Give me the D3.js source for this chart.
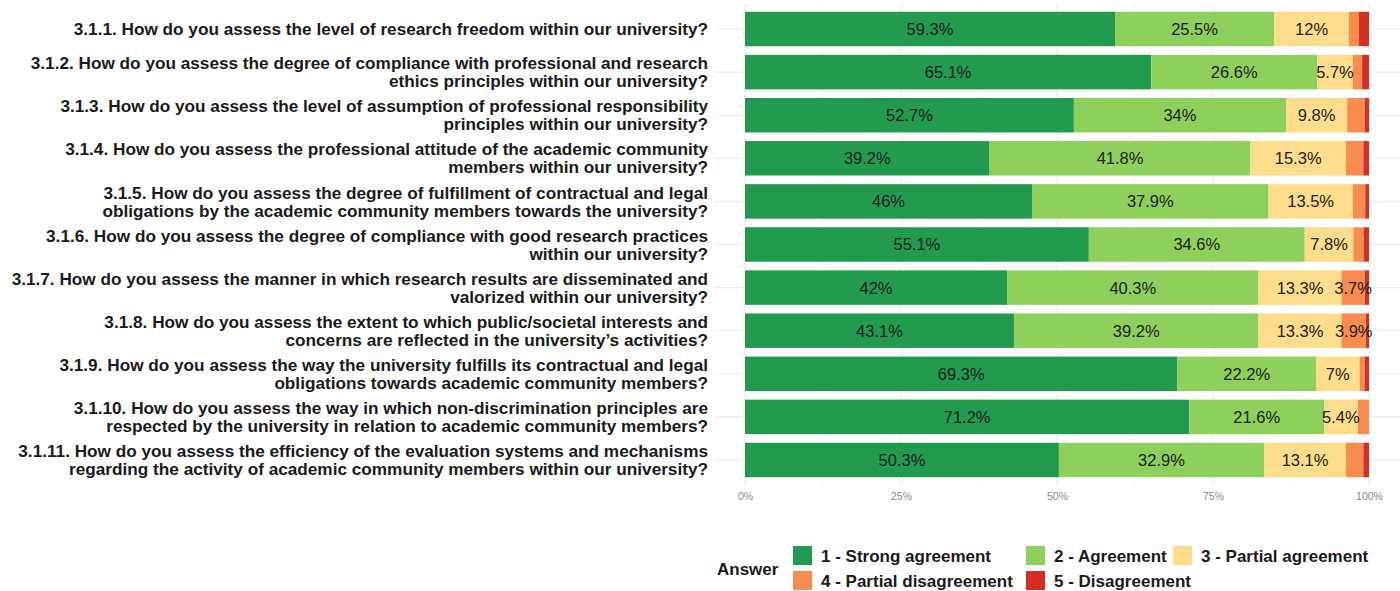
<!DOCTYPE html>
<html>
<head>
<meta charset="utf-8">
<script src="https://cdn.jsdelivr.net/npm/d3@7"></script>
<style>
  html, body { margin: 0; padding: 0; background: #ffffff; }
  svg { display: block; }
</style>
</head>
<body>
<svg id="chart" width="1400" height="591"></svg>
<script>
// Survey questions (each entry is the wrapped label lines)
const questions = [
  ["3.1.1. How do you assess the level of research freedom within our university?"],
  ["3.1.2. How do you assess the degree of compliance with professional and research", "ethics principles within our university?"],
  ["3.1.3. How do you assess the level of assumption of professional responsibility", "principles within our university?"],
  ["3.1.4. How do you assess the professional attitude of the academic community", "members within our university?"],
  ["3.1.5. How do you assess the degree of fulfillment of contractual and legal", "obligations by the academic community members towards the university?"],
  ["3.1.6. How do you assess the degree of compliance with good research practices", "within our university?"],
  ["3.1.7. How do you assess the manner in which research results are disseminated and", "valorized within our university?"],
  ["3.1.8. How do you assess the extent to which public/societal interests and", "concerns are reflected in the university\u2019s activities?"],
  ["3.1.9. How do you assess the way the university fulfills its contractual and legal", "obligations towards academic community members?"],
  ["3.1.10. How do you assess the way in which non-discrimination principles are", "respected by the university in relation to academic community members?"],
  ["3.1.11. How do you assess the efficiency of the evaluation systems and mechanisms", "regarding the activity of academic community members within our university?"]
];

// Answer categories
const answers = [
  "1 - Strong agreement",
  "2 - Agreement",
  "3 - Partial agreement",
  "4 - Partial disagreement",
  "5 - Disagreement"
];

// Share of respondents (%) per answer, one value per question
const strongAgreement    = [59.3, 65.1, 52.7, 39.2, 46.0, 55.1, 42.0, 43.1, 69.3, 71.2, 50.3];
const agreement          = [25.5, 26.6, 34.0, 41.8, 37.9, 34.6, 40.3, 39.2, 22.2, 21.6, 32.9];
const partialAgreement   = [12.0,  5.7,  9.8, 15.3, 13.5,  7.8, 13.3, 13.3,  7.0,  5.4, 13.1];
const partialDisagreement= [ 1.6,  1.5,  2.8,  2.8,  2.0,  1.7,  3.7,  3.9,  0.8,  1.8,  2.8];
const disagreement       = [ 1.6,  1.1,  0.7,  0.9,  0.6,  0.8,  0.7,  0.5,  0.7,  0.0,  0.9];

const xTicks = [0, 25, 50, 75, 100];
const xMinorTicks = [12.5, 37.5, 62.5, 87.5];

const colors = ["#219a50", "#8fcf5c", "#fddc8b", "#f88c4f", "#d42f22"];

const series = [strongAgreement, agreement, partialAgreement, partialDisagreement, disagreement];

// Row records for the stack layout
const rows = questions.map((q, i) => {
  const r = { id: i };
  answers.forEach((a, k) => { r[a] = series[k][i]; });
  return r;
});

const svg = d3.select("#chart");

const panel = { left: 714, right: 1400, top: 3, bottom: 486 };

const x = d3.scaleLinear().domain([0, 100]).range([745, 1369]);
const y = d3.scaleBand()
  .domain(rows.map(d => d.id))
  .range([7.45, 481.55])
  .paddingInner(0.2)
  .paddingOuter(0.1);

// Grid
const grid = svg.append("g");
grid.selectAll("line.minor").data(xMinorTicks).join("line")
  .attr("x1", d => x(d)).attr("x2", d => x(d))
  .attr("y1", panel.top).attr("y2", panel.bottom)
  .attr("stroke", "#f3f3f3").attr("stroke-width", 0.6);
grid.selectAll("line.major").data(xTicks).join("line")
  .attr("x1", d => x(d)).attr("x2", d => x(d))
  .attr("y1", panel.top).attr("y2", panel.bottom)
  .attr("stroke", "#ebebeb").attr("stroke-width", 1.1);
grid.selectAll("line.hrow").data(rows).join("line")
  .attr("x1", panel.left).attr("x2", panel.right)
  .attr("y1", d => y(d.id) + y.bandwidth() / 2)
  .attr("y2", d => y(d.id) + y.bandwidth() / 2)
  .attr("stroke", "#ebebeb").attr("stroke-width", 1.1);

// Stacked bars
const stack = d3.stack().keys(answers);
const layers = stack(rows);

const layerG = svg.append("g").selectAll("g").data(layers).join("g")
  .attr("fill", (d, i) => colors[i]);

layerG.selectAll("rect").data(d => d).join("rect")
  .attr("x", d => x(d[0]))
  .attr("width", d => Math.max(0, x(d[1]) - x(d[0])))
  .attr("y", d => y(d.data.id))
  .attr("height", y.bandwidth());

// Value labels
const labelG = svg.append("g")
  .attr("font-family", "'Liberation Sans', Arial, sans-serif")
  .attr("font-size", 16.5)
  .attr("fill", "#222222")
  .attr("text-anchor", "middle");

layers.forEach(layer => {
  layer.forEach(d => {
    const v = d[1] - d[0];
    if (v < 3) return;
    labelG.append("text")
      .attr("x", (x(d[0]) + x(d[1])) / 2)
      .attr("y", y(d.data.id) + y.bandwidth() / 2)
      .attr("dy", "0.36em")
      .text(d3.format("~")(+v.toFixed(1)) + "%");
  });
});

// X axis
const xAxis = d3.axisBottom(x)
  .tickValues(xTicks)
  .tickSize(0)
  .tickPadding(0)
  .tickFormat(d => d + "%");
const xg = svg.append("g").attr("transform", `translate(0, ${panel.bottom + 7})`).call(xAxis);
xg.select(".domain").remove();
xg.selectAll("text")
  .attr("font-family", "'Liberation Sans', Arial, sans-serif")
  .attr("font-size", 10.5)
  .attr("fill", "#8a8a8a");

// Y axis (question labels, right aligned)
const yLab = svg.append("g")
  .attr("font-family", "'Liberation Sans', Arial, sans-serif")
  .attr("font-weight", "bold")
  .attr("font-size", 17.2)
  .attr("fill", "#1a1a1a")
  .attr("text-anchor", "end");

const lineH = 18;
rows.forEach((r, i) => {
  const lines = questions[i];
  const cy = y(r.id) + y.bandwidth() / 2;
  const t = yLab.append("text").attr("x", 708);
  lines.forEach((ln, j) => {
    t.append("tspan")
      .attr("x", 708)
      .attr("y", cy + (j - (lines.length - 1) / 2) * lineH)
      .attr("dy", "0.36em")
      .text(ln);
  });
});

// Legend
const legend = svg.append("g")
  .attr("font-family", "'Liberation Sans', Arial, sans-serif")
  .attr("font-weight", "bold")
  .attr("fill", "#1a1a1a");

legend.append("text")
  .attr("x", 717).attr("y", 569)
  .attr("dy", "0.36em")
  .attr("font-size", 17)
  .text("Answer");

const legendPos = [
  { kx: 793, ky: 546 }, { kx: 1026, ky: 546 }, { kx: 1173, ky: 546 },
  { kx: 793, ky: 571 }, { kx: 1026, ky: 571 }
];

answers.forEach((a, i) => {
  const p = legendPos[i];
  legend.append("rect")
    .attr("x", p.kx).attr("y", p.ky)
    .attr("width", 19).attr("height", 19)
    .attr("fill", colors[i]);
  legend.append("text")
    .attr("x", p.kx + 28).attr("y", p.ky + 9.5)
    .attr("dy", "0.36em")
    .attr("font-size", 17)
    .text(a);
});
</script>
</body>
</html>
